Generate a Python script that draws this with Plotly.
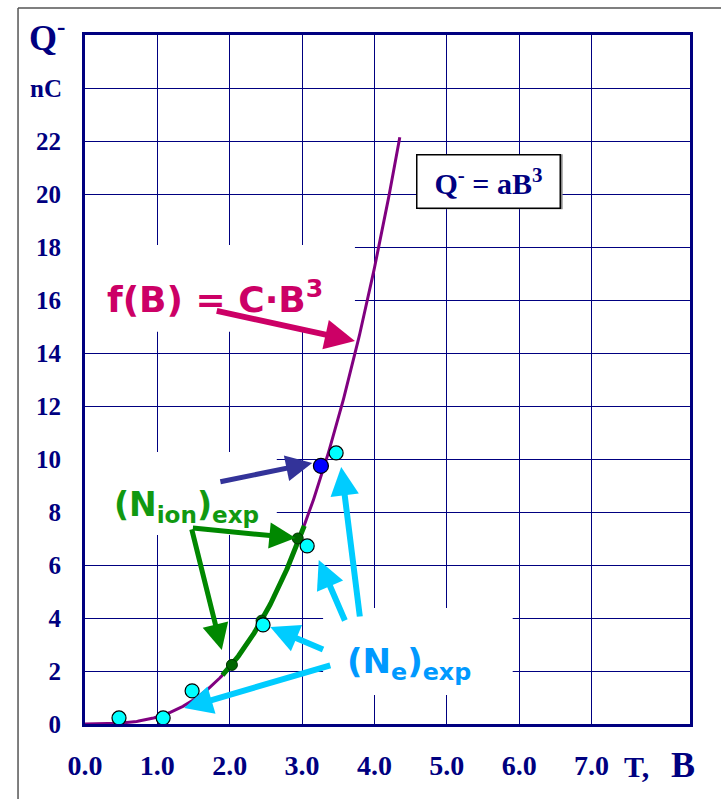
import numpy as np
import plotly.graph_objects as go

# (N_e)exp : electron-channel charge measurements
ne_B = [0.47, 1.08, 1.48, 2.46, 3.07, 3.47]
ne_Q = [0.23, 0.23, 1.25, 3.74, 6.72, 10.23]

# (N_ion)exp : ion-channel charge measurements
nion_B = [2.03, 2.44, 2.94]
nion_Q = [2.23, 3.90, 7.00]

# highlighted measurement
mark_B = [3.26]
mark_Q = [9.74]

# cubic law Q = a * B^3
a_coef = 0.269
fit_B_max = 4.35
ion_fit_B = [1.90, 3.03]

x_tick_vals = [0, 1, 2, 3, 4, 5, 6, 7]
x_tick_text = ["0.0", "1.0", "2.0", "3.0", "4.0", "5.0", "6.0", "7.0"]
y_tick_vals = [0, 2, 4, 6, 8, 10, 12, 14, 16, 18, 20, 22, 24]
y_tick_text = ["0", "2", "4", "6", "8", "10", "12", "14", "16", "18", "20", "22", ""]

NAVY = "#000080"
SERIF = "Liberation Serif"
HAND = "DejaVu Sans"

fit_B = np.linspace(0, fit_B_max, 300)
fit_Q = a_coef * fit_B ** 3
ion_B = np.linspace(ion_fit_B[0], ion_fit_B[1], 120)
ion_Q = a_coef * ion_B ** 3

fig = go.Figure()
fig.add_trace(go.Scatter(x=fit_B, y=fit_Q, mode="lines",
                         line=dict(color="#800080", width=3)))
fig.add_trace(go.Scatter(x=ion_B, y=ion_Q, mode="lines",
                         line=dict(color="#008000", width=5)))
fig.add_trace(go.Scatter(x=nion_B, y=nion_Q, mode="markers",
                         marker=dict(color="#006600", size=11,
                                     line=dict(color="#003300", width=1))))
fig.add_trace(go.Scatter(x=ne_B, y=ne_Q, mode="markers",
                         marker=dict(color="#00FFFF", size=14,
                                     line=dict(color="#000000", width=1.2))))
fig.add_trace(go.Scatter(x=mark_B, y=mark_Q, mode="markers",
                         marker=dict(color="#0000FF", size=15,
                                     line=dict(color="#000000", width=1.2))))

shapes = []
# white label panels laid over the grid
for (x0, x1, y0, y1) in [(-0.02, 3.73, 14.8, 18.08),
                         (-0.02, 2.65, 7.13, 10.26),
                         (3.29, 5.91, 1.09, 4.38)]:
    shapes.append(dict(type="rect", xref="x", yref="y", x0=x0, x1=x1, y0=y0, y1=y1,
                       fillcolor="white", line=dict(width=0), layer="above"))
# soft shadow behind the formula box
shapes.append(dict(type="rect", xref="x", yref="y", x0=4.62, x1=6.60, y0=19.42, y1=21.50,
                   fillcolor="#888888", line=dict(width=0), layer="above"))
# outer frame
shapes.append(dict(type="line", xref="paper", yref="paper", x0=-0.1107, x1=-0.1107,
                   y0=1.0392, y1=-0.12, line=dict(color="#555555", width=1.5)))
shapes.append(dict(type="line", xref="paper", yref="paper", x0=-0.1107, x1=1.06,
                   y0=1.0392, y1=1.0392, line=dict(color="#555555", width=1.5)))

annotations = []


def arrow(tail, tip, color, width, size):
    annotations.append(dict(x=tip[0], y=tip[1], ax=tail[0], ay=tail[1],
                            xref="x", yref="y", axref="x", ayref="y",
                            text="", showarrow=True, arrowhead=2,
                            arrowwidth=width, arrowsize=size, arrowcolor=color,
                            standoff=0, startstandoff=0))


arrow((1.80, 15.6), (3.73, 14.45), "#CC0066", 6, 1.0)
arrow((1.85, 9.13), (3.14, 9.85), "#333399", 5, 1.05)
arrow((1.47, 7.40), (2.91, 7.02), "#008800", 5, 1.05)
arrow((1.47, 7.40), (1.89, 2.79), "#008800", 5, 1.05)
arrow((3.31, 2.79), (2.56, 3.66), "#00CCFF", 6, 0.95)
arrow((3.41, 2.23), (1.37, 0.60), "#00CCFF", 6, 0.95)
arrow((3.60, 3.85), (3.23, 6.19), "#00CCFF", 6, 0.95)
arrow((3.80, 4.00), (3.54, 9.70), "#00CCFF", 6, 0.95)

annotations.append(dict(x=0.28, y=16.1, xref="x", yref="y", xanchor="left", yanchor="middle",
                        text="f(B) = C·B<sup>3</sup>", showarrow=False,
                        font=dict(family=HAND, size=36, color="#CC0066", weight="bold")))
annotations.append(dict(x=0.37, y=8.2, xref="x", yref="y", xanchor="left", yanchor="middle",
                        text="(N<sub>ion</sub>)<sub>exp</sub>", showarrow=False,
                        font=dict(family=HAND, size=33, color="#119911", weight="bold")))
annotations.append(dict(x=3.59, y=2.3, xref="x", yref="y", xanchor="left", yanchor="middle",
                        text="(N<sub>e</sub>)<sub>exp</sub>", showarrow=False,
                        font=dict(family=HAND, size=34, color="#0099FF", weight="bold")))
annotations.append(dict(x=5.57, y=20.49, xref="x", yref="y", xanchor="center", yanchor="middle",
                        text="Q<sup>-</sup> = aB<sup>3</sup>", showarrow=False,
                        width=136, height=46, borderpad=3, bgcolor="white",
                        bordercolor="#000000", borderwidth=1.5,
                        font=dict(family=SERIF, size=30, color=NAVY, weight="bold")))
# axis titles
annotations.append(dict(x=-0.063, y=26, xref="paper", yref="y", xanchor="center", yanchor="middle",
                        text="Q<sup>-</sup>", showarrow=False,
                        font=dict(family=SERIF, size=36, color=NAVY, weight="bold")))
annotations.append(dict(x=-0.064, y=24, xref="paper", yref="y", xanchor="center", yanchor="middle",
                        text="nC", showarrow=False,
                        font=dict(family=SERIF, size=25, color=NAVY, weight="bold")))
annotations.append(dict(x=7.62, y=-0.062, xref="x", yref="paper", xanchor="center", yanchor="middle",
                        text="T,", showarrow=False,
                        font=dict(family=SERIF, size=30, color=NAVY, weight="bold")))
annotations.append(dict(x=8.26, y=-0.060, xref="x", yref="paper", xanchor="center", yanchor="middle",
                        text="B", showarrow=False,
                        font=dict(family=SERIF, size=36, color=NAVY, weight="bold")))

fig.update_layout(
    width=721, height=799,
    margin=dict(l=85, r=31, t=35, b=75),
    paper_bgcolor="white", plot_bgcolor="white",
    showlegend=False,
    shapes=shapes, annotations=annotations,
)
fig.update_xaxes(range=[0, 8.36], tickvals=x_tick_vals, ticktext=x_tick_text,
                 showgrid=True, gridcolor=NAVY, gridwidth=1,
                 showline=True, linecolor=NAVY, linewidth=3, mirror=True,
                 ticks="", ticklabelstandoff=14, zeroline=False,
                 tickfont=dict(family=SERIF, size=28, color=NAVY, weight="bold"))
fig.update_yaxes(range=[0, 26], tickvals=y_tick_vals, ticktext=y_tick_text,
                 showgrid=True, gridcolor=NAVY, gridwidth=1,
                 showline=True, linecolor=NAVY, linewidth=3, mirror=True,
                 ticks="", ticklabelstandoff=16, zeroline=False,
                 tickfont=dict(family=SERIF, size=25, color=NAVY, weight="bold"))

fig.write_html("out.html")
